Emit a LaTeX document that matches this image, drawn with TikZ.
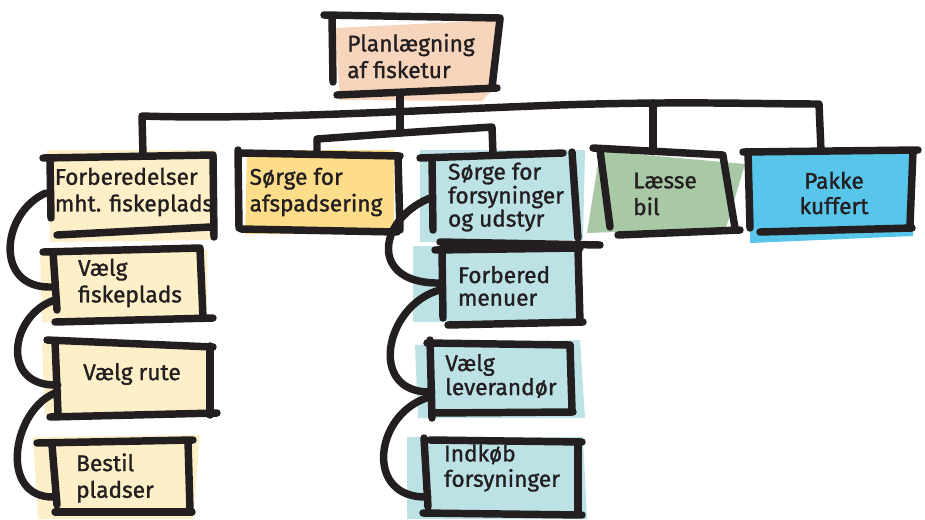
\documentclass[tikz,border=0pt]{standalone}
\usepackage{fontspec}
\setmainfont{Fira Sans}[FakeBold=1.2]
\usetikzlibrary{calc}
\newdimen\pxu \pxu=0.75pt
\definecolor{inkc}{HTML}{231F20}
\definecolor{peach}{HTML}{F7D5BD}
\definecolor{cream}{HTML}{FDEFC8}
\definecolor{gold}{HTML}{FDDD8A}
\definecolor{pale}{HTML}{BCE2E6}
\definecolor{sage}{HTML}{A8C8A6}
\definecolor{sky}{HTML}{58C5EA}
\tikzset{
  stroke/.style={draw=inkc, line width=5.6pt, line cap=round, line join=round},
  lbl/.style={inner sep=0pt, align=left, text=inkc, font=\fontsize{17}{20}\selectfont},
}
\begin{document}
\begin{tikzpicture}[x=0.75pt, y=-0.75pt]
\useasboundingbox (0,0) rectangle (925,519);

% colour patches behind the boxes
\fill[peach] (335,28) -- (497,20) -- (497,85) -- (482,101) -- (340,100) -- cycle;
\fill[cream] (47,150) -- (217,150) -- (215,240) -- (50,242) -- cycle;
\fill[gold]  (247,150) -- (394,150) -- (394,234) -- (245,234) -- cycle;
\fill[pale]  (420,150) -- (585,150) -- (583,240) -- (420,242) -- cycle;
\fill[sage]  (600,151) -- (745,164) -- (726,228) -- (587,233) -- cycle;
\fill[sky]   (750,152) -- (914,152) -- (913,236) -- (750,243) -- cycle;
\fill[cream] (40,250) -- (207,250) -- (207,322) -- (42,322) -- cycle;
\fill[cream] (42,343) -- (212,343) -- (210,415) -- (45,415) -- cycle;
\fill[cream] (33,437) -- (200,435) -- (193,519) -- (38,519) -- cycle;
\fill[pale]  (413,246) -- (578,246) -- (576,322) -- (413,322) -- cycle;
\fill[pale]  (415,345) -- (580,340) -- (585,418) -- (418,418) -- cycle;
\fill[pale]  (407,437) -- (583,437) -- (587,519) -- (407,519) -- cycle;

% labelled boxes
\node[lbl, minimum width=168\pxu, minimum height=78\pxu] (root) at (411,56) {Planlægning\\af fisketur};
\node[lbl, minimum width=172\pxu, minimum height=78\pxu] (b1) at (134,192) {Forberedelser\\mht. fiskeplads};
\node[lbl, minimum width=156\pxu, minimum height=80\pxu] (b2) at (316,192) {Sørge for\\afspadsering};
\node[lbl, minimum width=148\pxu, minimum height=88\pxu, font=\fontsize{17}{16}\selectfont] (b3) at (506,197) {Sørge for\\forsyninger\\og udstyr};
\node[lbl, minimum width=130\pxu, minimum height=88\pxu] (b4) at (665,194) {Læsse\\bil};
\node[lbl, align=center, minimum width=172\pxu, minimum height=84\pxu, font=\fontsize{17}{19}\selectfont] (b5) at (834,193) {Pakke\\kuffert};
\node[lbl, minimum width=152\pxu, minimum height=72\pxu] (b6) at (130,283) {Vælg\\fiskeplads};
\node[lbl, minimum width=152\pxu, minimum height=74\pxu] (b7) at (132,374) {Vælg rute};
\node[lbl, minimum width=126\pxu, minimum height=72\pxu] (b8) at (115,478) {Bestil\\pladser};
\node[lbl, minimum width=124\pxu, minimum height=74\pxu, font=\fontsize{17}{17}\selectfont] (b9) at (504,286) {Forbered\\menuer};
\node[lbl, minimum width=140\pxu, minimum height=70\pxu, font=\fontsize{17}{18}\selectfont] (b10) at (501,376) {Vælg\\leverandør};
\node[lbl, minimum width=152\pxu, minimum height=74\pxu, font=\fontsize{17}{19}\selectfont] (b11) at (502,468) {Indkøb\\forsyninger};

% hand-drawn box outlines
\draw[stroke] (324,15) -- (500,18);  \draw[stroke] (332,17) -- (333,82);
\draw[stroke] (500,19) -- (492,87);  \draw[stroke] (337,95) -- (497,88);

\draw[stroke] (43,158) -- (213,155);  \draw[stroke] (50,161) -- (51,218);
\draw[stroke] (213,156) -- (214,237); \draw[stroke] (57,235) -- (210,227);

\draw[stroke] (238,150) -- (239,228); \draw[stroke] (241,153) -- (400,156);
\draw[stroke] (398,157) -- (400,230); \draw[stroke] (241,229) -- (397,232);

\draw[stroke] (420,158) -- (563,153); \draw[stroke] (572,152) -- (578,238);
\draw[stroke] (432,158) -- (433,230); \draw[stroke] (440,242) -- (600,245);

\draw[stroke] (593,148) -- (723,155); \draw[stroke] (600,150) -- (610,227);
\draw[stroke] (723,156) -- (735,228); \draw[stroke] (618,235) -- (740,230);

\draw[stroke] (743,152) -- (918,150); \draw[stroke] (748,152) -- (750,228);
\draw[stroke] (913,151) -- (910,225); \draw[stroke] (760,232) -- (912,228);

\draw[stroke] (43,252) -- (200,248);  \draw[stroke] (53,252) -- (57,310);
\draw[stroke] (200,249) -- (203,318); \draw[stroke] (55,322) -- (213,318);

\draw[stroke] (47,340) -- (213,347);  \draw[stroke] (55,341) -- (58,413);
\draw[stroke] (210,346) -- (210,415); \draw[stroke] (50,417) -- (217,413);

\draw[stroke] (37,443) -- (193,440);  \draw[stroke] (52,445) -- (57,505);
\draw[stroke] (188,441) -- (190,510); \draw[stroke] (55,512) -- (192,512);

\draw[stroke] (435,250) -- (580,248); \draw[stroke] (442,251) -- (443,318);
\draw[stroke] (578,249) -- (580,322); \draw[stroke] (448,325) -- (583,322);

\draw[stroke] (427,343) -- (570,345); \draw[stroke] (430,340) -- (432,418);
\draw[stroke] (570,345) -- (572,410); \draw[stroke] (432,413) -- (573,412);

\draw[stroke] (430,440) -- (582,442); \draw[stroke] (424,438) -- (428,507);
\draw[stroke] (578,443) -- (578,513); \draw[stroke] (423,513) -- (582,515);

% tree connectors
\coordinate (hub) at (400,133);
\coordinate (j4) at (653,103);
\draw[stroke] ($(root.south)+(-11,0)$) -- (hub);
\draw[stroke] ($(b2.north)+(1,2)$) -- (317,139) -- (hub) -- (492,127) -- ($(b3.north)+(-13,2)$);
\draw[stroke] ($(b1.north)+(9,3)$) -- (142,116)
  .. controls (260,120) and (420,110) .. (560,105)
  .. controls (680,101) and (760,104) .. (819,104)
  -- ($(b5.north)+(-13,0)$);
\draw[stroke] (j4) -- ($(b4.north)+(-12,2)$);

% curved links down the two columns
\draw[stroke] ($(b1.west)+(-2,1)$) .. controls +(-45,20) and +(-58,2) .. ($(b6.west)+(-2,4)$);
\draw[stroke] ($(b6.west)+(1,17)$) .. controls +(-45,15) and +(-58,2) .. ($(b7.west)+(2,11)$);
\draw[stroke] ($(b7.west)+(2,18)$) .. controls +(-45,15) and +(-58,2) .. ($(b8.west)+(3,19)$);
\draw[stroke] ($(b3.west)+(1,0)$) .. controls +(-55,20) and +(-75,2) .. ($(b9.west)+(0,-3)$);
\draw[stroke] ($(b9.west)+(-2,4)$) .. controls +(-55,15) and +(-65,2) .. ($(b10.west)+(1,16)$);
\draw[stroke] ($(b10.west)+(-1,21)$) .. controls +(-55,15) and +(-65,2) .. ($(b11.west)+(2,29)$);
\end{tikzpicture}
\end{document}
